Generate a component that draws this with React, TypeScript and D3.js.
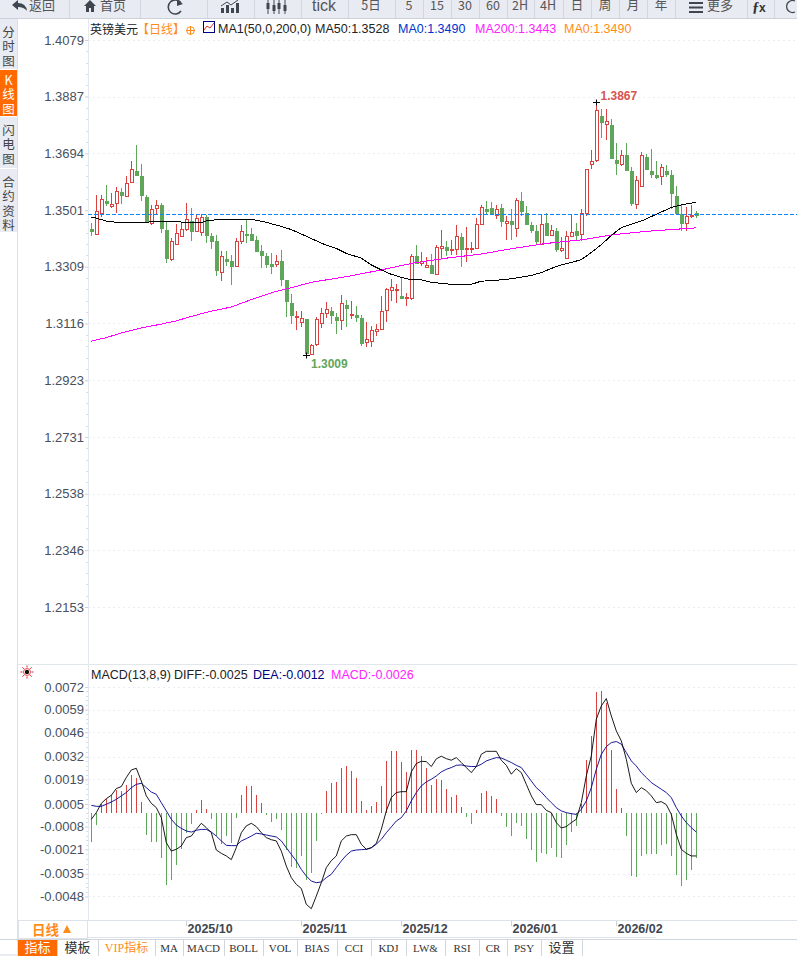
import React, { useEffect, useRef } from "react";
import * as d3 from "d3";

// Daily candles, oldest first
const opens = [1.3437,1.3420,1.3489,1.3532,1.3514,1.3523,1.3562,1.3547,1.3594,1.3633,1.3617,1.3545,1.3456,1.3506,1.3518,1.3433,1.3335,1.3386,1.3413,1.3437,1.3464,1.3430,1.3424,1.3476,1.3412,1.3396,1.3288,1.3335,1.3325,1.3309,1.3394,1.3420,1.3420,1.3399,1.3362,1.3342,1.3318,1.3316,1.3325,1.3263,1.3185,1.3135,1.3118,1.3131,1.3012,1.3043,1.3115,1.3149,1.3158,1.3138,1.3126,1.3177,1.3142,1.3143,1.3134,1.3050,1.3056,1.3088,1.3095,1.3159,1.3229,1.3231,1.3208,1.3201,1.3202,1.3345,1.3320,1.3307,1.3314,1.3281,1.3372,1.3375,1.3363,1.3368,1.3409,1.3370,1.3366,1.3371,1.3451,1.3504,1.3508,1.3482,1.3505,1.3457,1.3461,1.3438,1.3532,1.3491,1.3450,1.3427,1.3386,1.3454,1.3414,1.3430,1.3364,1.3336,1.3413,1.3427,1.3418,1.3490,1.3655,1.3669,1.3820,1.3791,1.3790,1.3671,1.3655,1.3685,1.3634,1.3520,1.3581,1.3681,1.3634,1.3620,1.3615,1.3634,1.3620,1.3548,1.3486,1.3457,1.3478,1.3489];
const highs = [1.3456,1.3552,1.3552,1.3586,1.3558,1.3578,1.3575,1.3617,1.3668,1.3722,1.3658,1.3554,1.3517,1.3535,1.3524,1.3464,1.3408,1.3454,1.3462,1.3524,1.3508,1.3488,1.3488,1.3484,1.3422,1.3415,1.3361,1.3361,1.3348,1.3407,1.3450,1.3470,1.3440,1.3413,1.3382,1.3354,1.3354,1.3348,1.3365,1.3263,1.3216,1.3158,1.3158,1.3132,1.3048,1.3139,1.3170,1.3189,1.3173,1.3150,1.3212,1.3195,1.3193,1.3175,1.3144,1.3121,1.3107,1.3113,1.3209,1.3238,1.3267,1.3249,1.3272,1.3218,1.3351,1.3381,1.3358,1.3343,1.3352,1.3383,1.3433,1.3396,1.3399,1.3452,1.3422,1.3443,1.3394,1.3475,1.3520,1.3532,1.3529,1.3518,1.3522,1.3481,1.3504,1.3544,1.3561,1.3514,1.3462,1.3450,1.3486,1.3490,1.3450,1.3440,1.3409,1.3430,1.3484,1.3456,1.3505,1.3641,1.3707,1.3867,1.3843,1.3843,1.3809,1.3728,1.3704,1.3729,1.3649,1.3617,1.3698,1.3693,1.3709,1.3668,1.3657,1.3654,1.3637,1.3583,1.3517,1.3513,1.3518,1.3498];
const lows = [1.3413,1.3417,1.3477,1.3515,1.3509,1.3491,1.3522,1.3547,1.3592,1.3618,1.3532,1.3462,1.3450,1.3488,1.3424,1.3322,1.3329,1.3382,1.3411,1.3431,1.3396,1.3428,1.3413,1.3390,1.3370,1.3278,1.3260,1.3312,1.3247,1.3309,1.3386,1.3390,1.3397,1.3359,1.3305,1.3305,1.3284,1.3309,1.3243,1.3138,1.3114,1.3094,1.3103,1.3009,1.3012,1.3041,1.3100,1.3135,1.3114,1.3080,1.3094,1.3104,1.3131,1.3122,1.3039,1.3037,1.3037,1.3074,1.3095,1.3122,1.3193,1.3187,1.3202,1.3175,1.3195,1.3318,1.3312,1.3303,1.3285,1.3280,1.3334,1.3345,1.3348,1.3349,1.3307,1.3326,1.3355,1.3371,1.3451,1.3488,1.3488,1.3471,1.3445,1.3400,1.3400,1.3409,1.3481,1.3450,1.3422,1.3383,1.3384,1.3414,1.3413,1.3360,1.3360,1.3335,1.3409,1.3397,1.3397,1.3481,1.3641,1.3663,1.3747,1.3739,1.3678,1.3621,1.3651,1.3634,1.3515,1.3506,1.3580,1.3636,1.3609,1.3606,1.3586,1.3612,1.3506,1.3484,1.3431,1.3431,1.3473,1.3474];
const closes = [1.3427,1.3497,1.3538,1.3522,1.3521,1.3565,1.3552,1.3592,1.3639,1.3620,1.3550,1.3464,1.3504,1.3518,1.3440,1.3338,1.3396,1.3423,1.3437,1.3470,1.3430,1.3474,1.3476,1.3416,1.3396,1.3297,1.3342,1.3325,1.3311,1.3393,1.3427,1.3416,1.3399,1.3362,1.3348,1.3318,1.3308,1.3328,1.3264,1.3190,1.3142,1.3141,1.3133,1.3015,1.3041,1.3131,1.3150,1.3164,1.3142,1.3127,1.3185,1.3168,1.3147,1.3138,1.3049,1.3063,1.3092,1.3097,1.3158,1.3233,1.3237,1.3233,1.3202,1.3206,1.3345,1.3320,1.3326,1.3314,1.3287,1.3374,1.3379,1.3363,1.3366,1.3412,1.3369,1.3372,1.3371,1.3452,1.3510,1.3495,1.3491,1.3504,1.3461,1.3463,1.3452,1.3534,1.3495,1.3452,1.3431,1.3395,1.3453,1.3414,1.3432,1.3369,1.3372,1.3413,1.3426,1.3416,1.3490,1.3640,1.3667,1.3840,1.3798,1.3803,1.3678,1.3659,1.3687,1.3635,1.3522,1.3602,1.3685,1.3638,1.3621,1.3613,1.3646,1.3621,1.3557,1.3489,1.3457,1.3480,1.3483,1.3482];

// Moving averages, read at these bar numbers
const ma50Bars = [0,1,3,5,11,13,17,19,22,23,26,32,35,37,38,40,42,45,47,49,51,54,56,58,60,62,64,66,68,72,76,78,80,84,88,90,92,94,96,98,100,102,104,106,110,113,116,118,121];
const ma50Values = [1.3477,1.3474,1.3464,1.3460,1.3460,1.3463,1.3463,1.3458,1.3458,1.3465,1.3470,1.3470,1.3460,1.3450,1.3446,1.3435,1.3420,1.3397,1.3382,1.3371,1.3354,1.3338,1.3315,1.3298,1.3283,1.3273,1.3264,1.3264,1.3256,1.3249,1.3249,1.3260,1.3261,1.3268,1.3279,1.3289,1.3303,1.3315,1.3323,1.3333,1.3357,1.3384,1.3415,1.3442,1.3464,1.3487,1.3510,1.3519,1.3528];
const ma200Bars = [0,3,6,10,14,17,20,24,28,31,34,37,41,44,51,58,64,71,78,84,91,98,104,111,121];
const ma200Values = [1.3056,1.3068,1.3084,1.3101,1.3114,1.3125,1.3140,1.3158,1.3172,1.3191,1.3209,1.3225,1.3242,1.3256,1.3275,1.3298,1.3320,1.3338,1.3352,1.3370,1.3388,1.3400,1.3417,1.3429,1.3441];
const lastPrice = 1.3488;

// MACD pane, in units of 0.0001
const macdBars = [-16.8,-7.1,4.8,7.6,9.9,13.0,12.4,15.7,21.4,19.7,6.3,-12.8,-16.8,-16.8,-26.2,-41.4,-38.6,-30.0,-21.0,-11.8,-6.7,1.3,7.1,1.9,-3.8,-13.4,-18.0,-13.4,-17.2,-3.2,9.9,15.1,15.1,9.9,5.3,-1.5,-5.3,-3.8,-9.9,-21.4,-30.9,-31.9,-24.8,-38.6,-34.4,-16.2,-1.0,12.2,16.8,17.4,25.4,26.5,23.7,19.7,6.5,1.5,3.6,5.9,15.1,29.4,35.1,35.1,28.8,23.1,35.7,35.7,32.3,25.4,15.7,19.1,18.5,13.4,8.8,9.9,3.1,-2.5,-6.7,1.3,11.1,12.2,9.4,7.6,-2.1,-8.4,-13.6,-6.1,-7.8,-15.3,-21.6,-28.3,-23.3,-23.9,-20.4,-25.6,-26.2,-18.7,-11.3,-7.6,4.8,30.0,43.7,69.0,69.5,62.6,35.7,13.4,2.5,-13.6,-36.5,-37.1,-25.0,-23.9,-23.9,-23.9,-18.7,-18.1,-25.0,-35.9,-42.2,-38.8,-33.0,-26.2];
const diffValues = [-3.8,0,5.3,8.0,9.9,13.8,14.9,20.1,24.4,25.4,18.1,9.6,5.3,2.9,-2.9,-17.2,-22.0,-21.0,-19.1,-14.3,-13.4,-9.6,-6.1,-8.6,-11.5,-21.4,-23.3,-24.8,-26.9,-20.1,-11.5,-7.6,-6.1,-8.0,-11.5,-14.3,-15.5,-16.2,-22.0,-30.6,-37.2,-41.1,-43.4,-52.5,-55.0,-47.8,-40.1,-31.5,-27.5,-24.8,-16.2,-13.4,-12.6,-12.6,-18.1,-21.0,-20.1,-17.6,-9.6,1.0,8.6,11.5,12.0,12.0,23.3,28.1,29.4,29.2,26.4,30.8,32.3,30.9,30.0,31.5,28.7,25.8,22.9,26.4,33.4,35.1,35.1,35.1,30.0,27.1,22.0,25.2,22.9,16.2,9.6,4.6,4.6,1.3,0,-5.7,-8.8,-8.0,-5.7,-3.8,5.7,21.0,32.5,53.5,61.1,65.3,55.4,46.8,41.1,30.6,16.8,11.5,14.3,12.6,9.6,5.7,6.3,4.6,-1.0,-12.4,-21.0,-23.3,-24.8,-24.8];
const deaValues = [4.2,3.6,3.6,4.8,6.1,7.6,9.6,11.5,14.3,16.2,16.8,14.3,11.8,10.5,5.7,1.0,-3.8,-7.1,-9.0,-10.5,-11.1,-10.1,-9.6,-9.6,-11.1,-13.4,-16.2,-18.7,-18.9,-18.9,-16.2,-14.9,-13.4,-11.8,-12.2,-12.8,-13.4,-13.9,-16.2,-20.1,-23.9,-27.7,-32.5,-36.3,-39.2,-40.1,-39.7,-37.2,-35.3,-31.5,-27.7,-24.4,-22.0,-21.4,-21.2,-21.0,-20.1,-18.1,-15.3,-11.5,-8.2,-4.8,-2.9,1.0,6.7,11.5,15.3,17.6,19.1,21.0,23.3,24.8,25.8,27.1,27.3,26.7,26.4,26.4,27.7,29.6,30.6,31.5,31.3,30.0,28.7,27.1,25.8,22.0,18.1,14.3,11.8,8.6,5.7,2.9,1.0,0,-0.6,-1.0,1.9,6.7,14.3,24.8,33.4,37.8,40.1,40.7,39.2,34.4,29.6,26.7,22.9,20.1,17.2,15.3,13.4,11.5,8.6,2.9,-1.9,-5.7,-8.6,-11.1];

// Axes
const priceTicks = [1.4079,1.3887,1.3694,1.3501,1.3309,1.3116,1.2923,1.2731,1.2538,1.2346,1.2153];
const macdTicks = [72,59,46,32,19,5,-8,-21,-35,-48];
const monthBars = [19,42,62,84,105];
const monthLabels = ["2025/10","2025/11","2025/12","2026/01","2026/02"];

// Labels around the chart
const toolbarEdges = [69,140,207,254,301,348,395,423,451,479,507,534,563,591,619,647,675,747,774];
const periodNames = ["5日","5","15","30","60","2H","4H","日","周","月","年"];
const sideTabs = [["分","时","图"],["K","线","图"],["闪","电","图"],["合","约","资","料"]];
const bottomTabs = ["指标","模板","VIP指标","MA","MACD","BOLL","VOL","BIAS","CCI","KDJ","LW&","RSI","CR","PSY","设置"];
const bottomEdges = [18,57,98,155,183,224,263,297,337,371,406,445,479,507,541,582];

const UP = "#d9423f";
const DOWN = "#5fa55a";
const SANS = "'Liberation Sans', Arial, sans-serif";
const CJK = "'Noto Sans CJK SC', sans-serif";
const AXIS_TEXT = "#46505e";

const App: React.FC = () => {
  const svgRef = useRef<SVGSVGElement | null>(null);

  useEffect(() => {
    const svg = d3.select(svgRef.current);
    svg.selectAll("*").remove();

    const x = d3.scaleLinear().domain([0, 121]).range([91.3, 696.3]);
    const y = d3.scaleLinear().domain([1.2153, 1.4079]).range([607, 40]);
    const m = d3.scaleLinear().domain([-47.9, 72.5]).range([896.3, 686]);
    const px = (i: number) => Math.round(x(i)) + 0.5;

    const text = (
      parent: any,
      tx: number,
      ty: number,
      s: string,
      fill: string,
      size = 12.5,
      family = SANS,
      anchor = "start",
      weight = "normal"
    ) =>
      parent
        .append("text")
        .attr("x", tx)
        .attr("y", ty)
        .attr("fill", fill)
        .attr("font-size", size)
        .attr("font-family", family)
        .attr("font-weight", weight)
        .attr("text-anchor", anchor)
        .text(s);

    svg.append("rect").attr("width", 797).attr("height", 956).attr("fill", "#fff");

    // toolbar
    const bar = svg.append("g");
    bar.append("rect").attr("width", 797).attr("height", 18).attr("fill", "#e9ebf3");
    bar.append("line").attr("x1", 0).attr("x2", 797).attr("y1", 18.5).attr("y2", 18.5).attr("stroke", "#ccd1da");
    bar
      .selectAll("line.sep")
      .data(toolbarEdges)
      .join("line")
      .attr("class", "sep")
      .attr("x1", (d) => d + 0.5)
      .attr("x2", (d) => d + 0.5)
      .attr("y1", 0)
      .attr("y2", 18)
      .attr("stroke", "#d3d6de");
    const icon = "#3f4650";
    bar.append("path").attr("d", "M12 5 L18 0 L18 3 Q26 3 27 11 Q24 7 18 7 L18 10 Z").attr("fill", icon);
    text(bar, 29, 10, "返回", "#555", 13, CJK);
    bar.append("path").attr("d", "M84 6 L90 0 L96 6 L94 6 L94 12 L91 12 L91 8 L89 8 L89 12 L86 12 L86 6 Z").attr("fill", icon);
    text(bar, 100, 10, "首页", "#555", 13, CJK);
    bar.append("path").attr("d", "M181 3 A7 7 0 1 0 181 11").attr("fill", "none").attr("stroke", icon).attr("stroke-width", 1.6);
    bar.append("path").attr("d", "M177 0 L183 4 L177 6 Z").attr("fill", icon);
    // bars icon
    [[221, 7], [226, 4], [231, 7], [236, 2]].forEach(([bx, by]) =>
      bar.append("rect").attr("x", bx).attr("y", by + 1).attr("width", 3).attr("height", 12 - by).attr("fill", icon)
    );
    bar.append("path").attr("d", "M221 6 L227 2 L231 5 L238 0").attr("fill", "none").attr("stroke", icon);
    // candles icon
    [268, 274, 279, 285].forEach((cx, i) => {
      bar.append("line").attr("x1", cx).attr("x2", cx).attr("y1", 0).attr("y2", 14).attr("stroke", icon);
      bar.append("rect").attr("x", cx - 1.5).attr("y", i % 2 ? 5 : 3).attr("width", 3).attr("height", 6).attr("fill", icon);
    });
    text(bar, 324, 11, "tick", "#555", 16, "'Liberation Sans'", "middle");
    const periodX = [371, 409, 437, 465, 493, 520, 548, 577, 605, 633, 661];
    periodNames.forEach((s, i) => text(bar, periodX[i], 10, s, "#555", 12.5, CJK, "middle"));
    [3, 7.5, 12].forEach((ly) =>
      bar.append("rect").attr("x", 689).attr("y", ly - 1).attr("width", 14).attr("height", 2).attr("fill", icon)
    );
    text(bar, 707, 10, "更多", "#555", 13, CJK);
    text(bar, 752, 12, "ƒ", "#333", 15, "'Liberation Serif'", "start", "bold");
    text(bar, 759, 12, "x", "#333", 12, SANS, "start", "bold");
    bar.append("path").attr("d", "M795 1 A6 6 0 1 0 795 12").attr("fill", "none").attr("stroke", icon).attr("stroke-width", 1.2);

    // left tabs
    const side = svg.append("g");
    side.append("rect").attr("x", 0).attr("y", 19).attr("width", 17).attr("height", 213).attr("fill", "#e9ebf3");
    side.append("line").attr("x1", 17.5).attr("x2", 17.5).attr("y1", 19).attr("y2", 956).attr("stroke", "#dbe0e6");
    side.append("rect").attr("x", 0).attr("y", 70).attr("width", 17).attr("height", 46).attr("fill", "#ff6a00");
    const tabStart = [37, 85, 135, 187];
    sideTabs.forEach((chars, t) =>
      chars.forEach((c, i) =>
        text(side, 8.5, tabStart[t] + i * 14.4, c, t === 1 ? "#fff" : "#444", 12.5, CJK, "middle")
      )
    );
    [69, 116, 168].forEach((ly) =>
      side.append("line").attr("x1", 0).attr("x2", 17).attr("y1", ly + 0.5).attr("y2", ly + 0.5).attr("stroke", "#fff")
    );

    // price pane axis and grid
    const grid = svg.append("g").attr("stroke", "#eaedf1").attr("stroke-dasharray", "2,3");
    priceTicks.forEach((t) =>
      grid.append("line").attr("x1", 88).attr("x2", 797).attr("y1", Math.round(y(t)) + 0.5).attr("y2", Math.round(y(t)) + 0.5)
    );
    macdTicks.forEach((t) =>
      grid.append("line").attr("x1", 88).attr("x2", 797).attr("y1", Math.round(m(t)) + 0.5).attr("y2", Math.round(m(t)) + 0.5)
    );

    const styleAxis = (g: any) => {
      g.select(".domain").attr("stroke", "#dbe3ea");
      g.selectAll(".tick line").attr("stroke", "#c5d3de");
      g.selectAll(".tick text").attr("fill", AXIS_TEXT).attr("font-size", 13).attr("font-family", SANS);
    };
    const priceAxis = svg
      .append("g")
      .attr("transform", "translate(88,0)")
      .call(
        d3.axisLeft(y).tickValues(priceTicks).tickFormat(d3.format(".4f") as any).tickSize(3).tickSizeOuter(0).tickPadding(1)
      );
    styleAxis(priceAxis);
    const minorPrice = d3.range(0, priceTicks.length - 1).flatMap((k) =>
      [1, 2, 3, 4].map((n) => priceTicks[k] + ((priceTicks[k + 1] - priceTicks[k]) * n) / 5)
    );
    svg
      .append("g")
      .selectAll("line")
      .data(minorPrice)
      .join("line")
      .attr("x1", 86)
      .attr("x2", 88)
      .attr("y1", (d) => Math.round(y(d)) + 0.5)
      .attr("y2", (d) => Math.round(y(d)) + 0.5)
      .attr("stroke", "#d5dfe7");
    svg.append("line").attr("x1", 88.5).attr("x2", 88.5).attr("y1", 19).attr("y2", 664).attr("stroke", "#e3e9ee");

    // candles
    const candles = svg.append("g").attr("shape-rendering", "crispEdges");
    const bars = d3.range(opens.length);
    candles
      .selectAll("line")
      .data(bars)
      .join("line")
      .attr("x1", px)
      .attr("x2", px)
      .attr("y1", (i) => y(highs[i]))
      .attr("y2", (i) => y(lows[i]))
      .attr("stroke", (i) => (closes[i] > opens[i] ? UP : DOWN));
    candles
      .selectAll("rect")
      .data(bars)
      .join("rect")
      .attr("x", (i) => px(i) - 1.5)
      .attr("width", 3)
      .attr("y", (i) => y(Math.max(opens[i], closes[i])))
      .attr("height", (i) => Math.max(1, Math.abs(y(opens[i]) - y(closes[i]))))
      .attr("fill", (i) => (closes[i] > opens[i] ? "#fff" : DOWN))
      .attr("stroke", (i) => (closes[i] > opens[i] ? UP : DOWN));

    // last price line and moving averages
    const lastY = Math.round(y(lastPrice)) + 0.5;
    svg
      .append("line")
      .attr("x1", 88)
      .attr("x2", 797)
      .attr("y1", lastY)
      .attr("y2", lastY)
      .attr("stroke", "#0a84ff")
      .attr("stroke-width", 1)
      .attr("stroke-dasharray", "4,2")
      .attr("shape-rendering", "crispEdges");
    const maLine = (bs: number[]) =>
      d3
        .line<number>()
        .x((_, i) => x(bs[i]))
        .y((d) => y(d));
    svg.append("path").attr("d", maLine(ma200Bars)(ma200Values)).attr("fill", "none").attr("stroke", "#ff00ff").attr("stroke-width", 1).attr("shape-rendering", "crispEdges");
    svg.append("path").attr("d", maLine(ma50Bars)(ma50Values)).attr("fill", "none").attr("stroke", "#000").attr("stroke-width", 1).attr("shape-rendering", "crispEdges");

    // high and low marks
    const hiBar = highs.indexOf(d3.max(highs)!);
    const loBar = lows.indexOf(d3.min(lows)!);
    [[hiBar, highs[hiBar]], [loBar, lows[loBar]]].forEach(([b, v]) => {
      const cx = px(b);
      const cy = Math.round(y(v)) + 0.5;
      svg.append("path").attr("d", `M${cx - 3.5} ${cy}H${cx + 3.5}M${cx} ${cy - 3}V${cy + 3}`).attr("stroke", "#000").attr("fill", "none");
    });
    text(svg, px(hiBar) + 4, y(highs[hiBar]) - 2, d3.format(".4f")(highs[hiBar]), "#d9534f", 12, SANS, "start", "bold");
    text(svg, px(loBar) + 4.5, y(lows[loBar]) + 13, d3.format(".4f")(lows[loBar]), "#62a65c", 12, SANS, "start", "bold");

    // price header
    text(svg, 90, 34, "英镑美元", "#222", 12, CJK);
    text(svg, 137, 34, "【日线】", "#ff8c1a", 12, CJK);
    svg.append("circle").attr("cx", 190.5).attr("cy", 30.5).attr("r", 3.8).attr("fill", "none").attr("stroke", "#ff8c1a");
    svg.append("path").attr("d", "M186 30.5H195M190.5 26V35").attr("stroke", "#ff8c1a");
    svg.append("rect").attr("x", 203.5).attr("y", 21.5).attr("width", 11).attr("height", 11).attr("fill", "#fff").attr("stroke", "#00007f");
    svg.append("path").attr("d", "M204 30L207 26L210 28L214 23").attr("fill", "none").attr("stroke", "#e03030");
    text(svg, 218, 33, "MA1(50,0,200,0)", "#222");
    text(svg, 315, 33, "MA50:1.3528", "#222");
    text(svg, 398, 33, "MA0:1.3490", "#0033cc");
    text(svg, 475, 33, "MA200:1.3443", "#ff22ff");
    text(svg, 564, 33, "MA0:1.3490", "#ff8c1a");

    // macd pane
    svg.append("line").attr("x1", 18).attr("x2", 797).attr("y1", 664.5).attr("y2", 664.5).attr("stroke", "#e1e6eb");
    const sun = svg.append("g").attr("transform", "translate(27,672)");
    sun.append("circle").attr("r", 2.2).attr("fill", "#111");
    sun.append("circle").attr("r", 3.5).attr("fill", "none").attr("stroke", "#e02020").attr("stroke-width", 0.8);
    d3.range(8).forEach((k) => {
      const a = (k * Math.PI) / 4;
      sun
        .append("line")
        .attr("x1", 4.5 * Math.cos(a))
        .attr("y1", 4.5 * Math.sin(a))
        .attr("x2", 6.5 * Math.cos(a))
        .attr("y2", 6.5 * Math.sin(a))
        .attr("stroke", "#e02020");
    });
    text(svg, 91, 679, "MACD(13,8,9)", "#222");
    text(svg, 174, 679, "DIFF:-0.0025", "#222");
    text(svg, 253, 679, "DEA:-0.0012", "#00007f");
    text(svg, 331, 679, "MACD:-0.0026", "#ff22ff");

    const macdAxis = svg
      .append("g")
      .attr("transform", "translate(88,0)")
      .call(
        d3.axisLeft(m).tickValues(macdTicks).tickFormat(((d: number) => (d / 10000).toFixed(4)) as any).tickSize(3).tickSizeOuter(0).tickPadding(1)
      );
    styleAxis(macdAxis);
    const minorMacd = d3.range(0, macdTicks.length - 1).flatMap((k) =>
      [1, 2, 3, 4].map((n) => macdTicks[k] + ((macdTicks[k + 1] - macdTicks[k]) * n) / 5)
    );
    svg
      .append("g")
      .selectAll("line")
      .data(minorMacd)
      .join("line")
      .attr("x1", 86)
      .attr("x2", 88)
      .attr("y1", (d) => Math.round(m(d)) + 0.5)
      .attr("y2", (d) => Math.round(m(d)) + 0.5)
      .attr("stroke", "#d5dfe7");
    svg.append("line").attr("x1", 88.5).attr("x2", 88.5).attr("y1", 664).attr("y2", 920).attr("stroke", "#e3e9ee");

    svg
      .append("g")
      .attr("shape-rendering", "crispEdges")
      .selectAll("line")
      .data(macdBars)
      .join("line")
      .attr("x1", (_, i) => px(i))
      .attr("x2", (_, i) => px(i))
      .attr("y1", m(0))
      .attr("y2", (d) => m(d))
      .attr("stroke", (d) => (d > 0 ? UP : DOWN));
    const macdLine = d3
      .line<number>()
      .x((_, i) => x(i))
      .y((d) => m(d));
    svg.append("path").attr("d", macdLine(deaValues)).attr("fill", "none").attr("stroke", "#00008f").attr("stroke-width", 0.9);
    svg.append("path").attr("d", macdLine(diffValues)).attr("fill", "none").attr("stroke", "#000").attr("stroke-width", 0.9);

    // date axis
    svg.append("line").attr("x1", 18).attr("x2", 797).attr("y1", 920.5).attr("y2", 920.5).attr("stroke", "#dde3e9");
    svg.append("line").attr("x1", 18).attr("x2", 656).attr("y1", 937.5).attr("y2", 937.5).attr("stroke", "#dde3e9");
    monthBars.forEach((b, i) => {
      svg.append("line").attr("x1", px(b)).attr("x2", px(b)).attr("y1", 921).attr("y2", 926).attr("stroke", "#c5d3de");
      text(svg, px(b) + 1, 933, monthLabels[i], "#3f4650", 12.5, SANS, "start", "bold");
    });
    svg.append("rect").attr("x", 18.5).attr("y", 920.5).attr("width", 69).attr("height", 18).attr("fill", "#fff").attr("stroke", "#dde3e9");
    text(svg, 32, 935, "日线", "#ff8c1a", 13.5, CJK, "start", "bold");
    svg.append("path").attr("d", "M63 933L71 933L67 925Z").attr("fill", "#ff8c1a");

    // indicator tabs
    svg.append("line").attr("x1", 0).attr("x2", 797).attr("y1", 939.5).attr("y2", 939.5).attr("stroke", "#cfd6dd");
    svg.append("rect").attr("x", 18).attr("y", 940).attr("width", 39).attr("height", 16).attr("fill", "#ff6a00");
    svg.append("rect").attr("x", 0).attr("y", 954).attr("width", 18).attr("height", 2).attr("fill", "#e9ebf3");
    bottomTabs.forEach((s, i) => {
      const mid = (bottomEdges[i] + bottomEdges[i + 1]) / 2;
      const latin = /^[A-Z&]+$/.test(s);
      const fill = i === 0 ? "#fff" : i === 2 ? "#ff8c1a" : "#333";
      text(svg, mid, 952, s, fill, latin ? 11 : i === 2 ? 12 : 13, latin || i === 2 ? "'Liberation Serif', 'Noto Sans CJK SC'" : CJK, "middle");
      svg.append("line").attr("x1", bottomEdges[i + 1] + 0.5).attr("x2", bottomEdges[i + 1] + 0.5).attr("y1", 940).attr("y2", 956).attr("stroke", "#cfd6dd");
    });
  }, []);

  return (
    <svg
      ref={svgRef}
      width={797}
      height={956}
      style={{ position: "absolute", left: 0, top: 0, display: "block" }}
    ></svg>
  );
};

export default App;
